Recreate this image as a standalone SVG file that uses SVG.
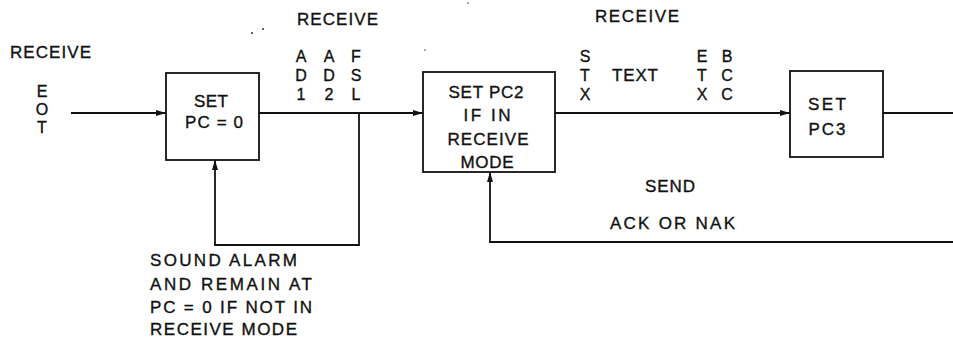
<svg xmlns="http://www.w3.org/2000/svg" width="953" height="339" viewBox="0 0 953 339">
<style>
  .t { font-family: "Liberation Sans", Arial, sans-serif; font-size: 17px; fill: #111; stroke: #111; stroke-width: 0.35; }
  .c { font-family: "Liberation Sans", Arial, sans-serif; font-size: 16px; fill: #111; stroke: #111; stroke-width: 0.35; text-anchor: middle; }
  .b { font-family: "Liberation Sans", Arial, sans-serif; font-size: 17px; fill: #111; stroke: #111; stroke-width: 0.35; }
  .m { text-anchor: middle; }
  .box { fill: #fff; stroke: #111; stroke-width: 1.8; }
  .ln { fill: none; stroke: #111; stroke-width: 1.8; }
</style>
<defs>
  <marker id="arr" viewBox="0 0 10 6" refX="10" refY="3" markerWidth="10" markerHeight="6" markerUnits="userSpaceOnUse" orient="auto">
    <path d="M0,0 L10,3 L0,6 Z" fill="#111"/>
  </marker>
</defs>
<rect width="953" height="339" fill="#fff"/>

<g id="connectors">
  <path class="ln" d="M71,113 H166" marker-end="url(#arr)"/>
  <path class="ln" d="M259,113 H423" marker-end="url(#arr)"/>
  <path class="ln" d="M555,113 H790" marker-end="url(#arr)"/>
  <path class="ln" d="M883,113 H953"/>
  <path class="ln" d="M359,113 V245 H215 V160" marker-end="url(#arr)"/>
  <path class="ln" d="M953,242 H490 V172" marker-end="url(#arr)"/>
</g>

<g id="node-set-pc0">
  <rect class="box" x="166" y="73" width="93" height="87"/>
  <text class="b m" x="211" y="107" textLength="34" lengthAdjust="spacing">SET</text>
  <text class="b m" x="214" y="128" textLength="58" lengthAdjust="spacing">PC = 0</text>
</g>

<g id="node-set-pc2">
  <rect class="box" x="423" y="72" width="132" height="100"/>
  <text class="b m" x="486" y="98" textLength="75" lengthAdjust="spacing">SET PC2</text>
  <text class="b m" x="487" y="121" textLength="47" lengthAdjust="spacing">IF IN</text>
  <text class="b m" x="488" y="145" textLength="81" lengthAdjust="spacing">RECEIVE</text>
  <text class="b m" x="487" y="168" textLength="53" lengthAdjust="spacing">MODE</text>
</g>

<g id="node-set-pc3">
  <rect class="box" x="790" y="71" width="93" height="86"/>
  <text class="b m" x="827" y="110" textLength="38" lengthAdjust="spacing">SET</text>
  <text class="b m" x="827" y="135" textLength="37" lengthAdjust="spacing">PC3</text>
</g>

<g id="labels">
  <text class="t" x="10" y="58" textLength="81" lengthAdjust="spacing">RECEIVE</text>
  <text class="c" x="42" y="97">E</text>
  <text class="c" x="42" y="115">O</text>
  <text class="c" x="42" y="133">T</text>

  <text class="t" x="297" y="25" textLength="81" lengthAdjust="spacing">RECEIVE</text>
  <text class="c" x="301" y="62">A</text>
  <text class="c" x="301" y="81">D</text>
  <text class="c" x="301" y="100">1</text>
  <text class="c" x="329" y="62">A</text>
  <text class="c" x="329" y="81">D</text>
  <text class="c" x="329" y="100">2</text>
  <text class="c" x="356" y="62">F</text>
  <text class="c" x="356" y="81">S</text>
  <text class="c" x="356" y="100">L</text>

  <text class="t" x="595" y="22" textLength="84" lengthAdjust="spacing">RECEIVE</text>
  <text class="c" x="585" y="62">S</text>
  <text class="c" x="585" y="81">T</text>
  <text class="c" x="585" y="100">X</text>
  <text class="t" x="612" y="81" textLength="46" lengthAdjust="spacing">TEXT</text>
  <text class="c" x="702" y="62">E</text>
  <text class="c" x="702" y="81">T</text>
  <text class="c" x="702" y="100">X</text>
  <text class="c" x="727" y="62">B</text>
  <text class="c" x="727" y="81">C</text>
  <text class="c" x="727" y="100">C</text>

  <text class="t" x="645" y="192" textLength="50" lengthAdjust="spacing">SEND</text>
  <text class="t" x="610" y="229" textLength="125" lengthAdjust="spacing">ACK OR NAK</text>

  <text class="b" x="150" y="266" textLength="147" lengthAdjust="spacing">SOUND ALARM</text>
  <text class="b" x="150" y="290" textLength="162" lengthAdjust="spacing">AND REMAIN AT</text>
  <text class="b" x="150" y="313" textLength="162" lengthAdjust="spacing">PC = 0 IF NOT IN</text>
  <text class="b" x="150" y="335" textLength="147" lengthAdjust="spacing">RECEIVE MODE</text>
</g>

<g id="specks" fill="#333">
  <circle cx="252" cy="33" r="1"/>
  <circle cx="263" cy="29" r="1"/>
  <circle cx="468" cy="3" r="0.8"/>
  <circle cx="425" cy="50" r="0.8"/>
</g>
</svg>
